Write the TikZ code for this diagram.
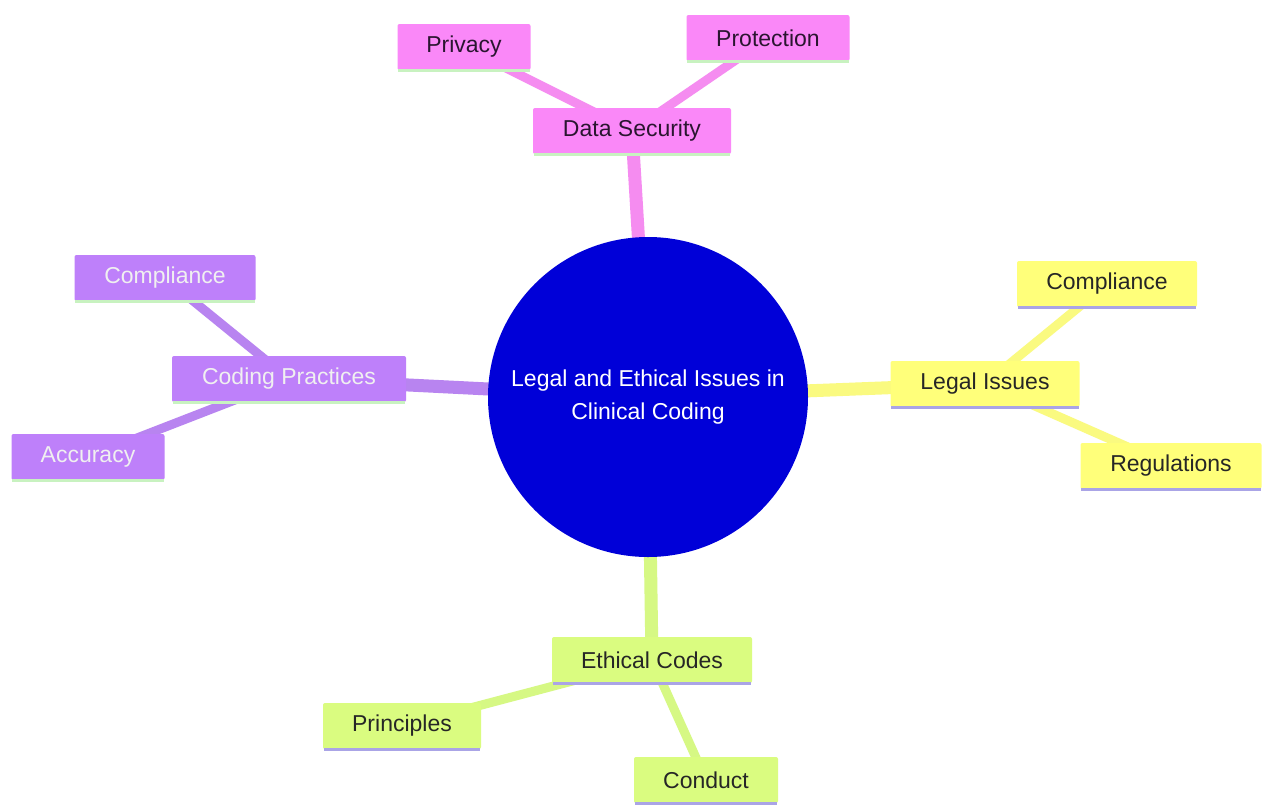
\documentclass[tikz,border=0pt]{standalone}
\usepackage{fontspec}
\setmainfont{Liberation Sans}
\definecolor{pinkF}{HTML}{FA88F8}
\definecolor{pinkE}{HTML}{F58CF0}
\definecolor{purpF}{HTML}{BE80FA}
\definecolor{purpE}{HTML}{B884F0}
\definecolor{yelF}{HTML}{FFFF7A}
\definecolor{yelE}{HTML}{FAFA80}
\definecolor{limeF}{HTML}{DAFC80}
\definecolor{limeE}{HTML}{D6F884}
\definecolor{bluC}{HTML}{0000D8}
\definecolor{grnB}{HTML}{C8F2C0}
\definecolor{lavB}{HTML}{AAA4E6}
\definecolor{darkT}{HTML}{2A1530}
\begin{document}
\begin{tikzpicture}[x=1pt,y=-1pt,
  box/.style={rectangle, rounded corners=2pt, minimum height=46pt, inner sep=0pt, font=\fontsize{23}{27}\selectfont},
  pinkbox/.style={box, fill=pinkF, text=darkT},
  purpbox/.style={box, fill=purpF, text=white!94!black},
  yelbox/.style={box, fill=yelF, text=black!85},
  limebox/.style={box, fill=limeF, text=black!85},
  trunk/.style={line width=13pt},
  twig/.style={line width=9pt},
  bottomline/.style={line width=3pt}
]
\useasboundingbox (0,0) rectangle (1262,807);
\fill[white] (0,0) rectangle (1262,807);

% node coordinates (centres)
\coordinate (cC) at (648,397);
\coordinate (dsC) at (632,131);
\coordinate (prC) at (464,47);
\coordinate (ptC) at (768,38);
\coordinate (cpC) at (289,379);
\coordinate (coLC) at (165,278);
\coordinate (acC) at (88,457);
\coordinate (liC) at (985,384);
\coordinate (coRC) at (1107,284);
\coordinate (reC) at (1171,466);
\coordinate (ecC) at (652,660);
\coordinate (piC) at (402,726);
\coordinate (cdC) at (706,780);

% connectors
\draw[trunk, pinkE] (dsC) -- (cC);
\draw[trunk, purpE] (cpC) -- (cC);
\draw[trunk, yelE] (liC) -- (cC);
\draw[trunk, limeE] (ecC) -- (cC);
\draw[twig, pinkE] (prC) -- (dsC);
\draw[twig, pinkE] (ptC) -- (dsC);
\draw[twig, purpE] (coLC) -- (cpC);
\draw[twig, purpE] (acC) -- (cpC);
\draw[twig, yelE] (coRC) -- (liC);
\draw[twig, yelE] (reC) -- (liC);
\draw[twig, limeE] (piC) -- (ecC);
\draw[twig, limeE] (cdC) -- (ecC);

% centre
\node[circle, fill=bluC, minimum size=320pt, inner sep=0pt, text=white,
  align=center, font=\fontsize{23}{33}\selectfont] (c) at (cC)
  {Legal and Ethical Issues in\\Clinical Coding};

% pink
\node[pinkbox, minimum width=198pt] (ds) at (dsC) {Data Security};
\node[pinkbox, minimum width=133pt] (pr) at (prC) {Privacy};
\node[pinkbox, minimum width=163pt] (pt) at (ptC) {Protection};
% purple
\node[purpbox, minimum width=234pt] (cp) at (cpC) {Coding Practices};
\node[purpbox, minimum width=181pt] (coL) at (coLC) {Compliance};
\node[purpbox, minimum width=153pt] (ac) at (acC) {Accuracy};
% yellow
\node[yelbox, minimum width=189pt] (li) at (liC) {Legal Issues};
\node[yelbox, minimum width=180pt] (coR) at (coRC) {Compliance};
\node[yelbox, minimum width=181pt] (re) at (reC) {Regulations};
% lime
\node[limebox, minimum width=200pt] (ec) at (ecC) {Ethical Codes};
\node[limebox, minimum width=158pt] (pi) at (piC) {Principles};
\node[limebox, minimum width=144pt] (cd) at (cdC) {Conduct};

% bottom borders
\foreach \n in {ds,pr,pt,cp,coL,ac}
  \draw[bottomline, grnB] ([xshift=1pt]\n.south west) -- ([xshift=-1pt]\n.south east);
\foreach \n in {li,coR,re,ec,pi,cd}
  \draw[bottomline, lavB] ([xshift=1pt]\n.south west) -- ([xshift=-1pt]\n.south east);
\end{tikzpicture}
\end{document}
